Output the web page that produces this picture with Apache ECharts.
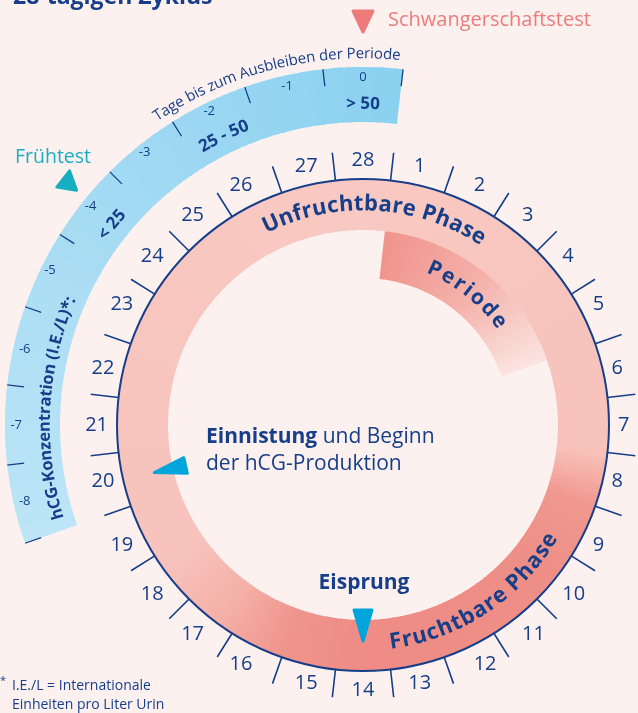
<!DOCTYPE html>
<html lang="de">
<head>
  <meta charset="UTF-8">
  <title>28-tägiger Zyklus</title>
  <script src="https://cdn.jsdelivr.net/npm/echarts@6/dist/echarts.min.js"></script>
  <style>
    html, body { margin: 0; padding: 0; background: #fcf1ef; }
    #chart { width: 638px; height: 713px; }
  </style>
</head>
<body>
  <div id="chart"></div>
  <script>
    // --- Daten ---
    const cycleDays = ['1', '2', '3', '4', '5', '6', '7', '8', '9', '10', '11', '12', '13', '14',
      '15', '16', '17', '18', '19', '20', '21', '22', '23', '24', '25', '26', '27', '28'];
    // Tage bis zum Ausbleiben der Periode (Skala auf dem blauen Band)
    const hcgSlots = ['-27', '-26', '-25', '-24', '-23', '-22', '-21', '-20', '-19', '-18', '-17', '-16', '-15', '-14',
      '-13', '-12', '-11', '-10', '-9', '-8', '-7', '-6', '-5', '-4', '-3', '-2', '-1', '0'];
    const hcgDays = [-8, -7, -6, -5, -4, -3, -2, -1, 0];
    const hcgLevels = ['< 25', '25 - 50', '> 50'];
    const hcgLevelDays = [-4, -2, 0];
    const periodDays = [1, 5];
    const phaseNames = ['Unfruchtbare Phase', 'Fruchtbare Phase'];
    const phaseDays = [0.25, 11.4];
    const eventNames = ['Schwangerschaftstest', 'Frühtest', 'Eisprung', 'Einnistung'];
    const eventDays = [0, -4, 14, 20];

    // --- Stil ---
    const NAVY = '#163e89';
    const CYAN = '#00a5db';
    const TEAL = '#17aec2';
    const SALMON = '#ee7b7c';
    const FONT = '"Open Sans", sans-serif';
    const CENTER = [363, 425];
    const RING = [195, 246];
    const PERIOD = [147, 195];
    const HCG = [303, 358];
    const ringStops = [[0, '#f8c9c2'], [7.5, '#f7c2bb'], [8.5, '#f0988f'], [10, '#ee8f87'],
      [14, '#ee8c85'], [15.5, '#ef948c'], [16.8, '#f4b0a8'], [18.2, '#f7c3bc'], [28, '#f8c9c2']];
    const periodStops = [[0.5, '#f0948c'], [3, '#f4b1aa'], [5.5, '#fbe4e0']];
    const hcgStops = [[-8.5, '#bde5f7'], [-4, '#a5dbf3'], [0.5, '#8ad1f0']];

    const measure = document.createElement('canvas').getContext('2d');

    function hex(c) { return [1, 3, 5].map(i => parseInt(c.substr(i, 2), 16)); }
    function colorAt(stops, d) {
      if (d <= stops[0][0]) return stops[0][1];
      for (let i = 1; i < stops.length; i++) {
        if (d <= stops[i][0]) {
          const t = (d - stops[i - 1][0]) / (stops[i][0] - stops[i - 1][0]);
          const a = hex(stops[i - 1][1]), b = hex(stops[i][1]);
          return 'rgb(' + a.map((v, k) => Math.round(v + (b[k] - v) * t)).join(',') + ')';
        }
      }
      return stops[stops.length - 1][1];
    }

    function angleOf(api, cs, day) {
      const p = api.coord([100, day]);
      return Math.atan2(p[1] - cs.cy, p[0] - cs.cx);
    }

    // Band aus kleinen Sektoren, damit der Farbverlauf dem Kreis folgt
    function band(api, cs, d0, d1, radii, stops) {
      const out = [];
      const n = Math.ceil((d1 - d0) / 0.1);
      for (let i = 0; i < n; i++) {
        const a = d0 + (d1 - d0) * i / n;
        const b = d0 + (d1 - d0) * (i + 1) / n;
        const sa = angleOf(api, cs, a);
        let ea = angleOf(api, cs, i < n - 1 ? b + 0.04 : b);
        while (ea < sa) ea += Math.PI * 2;
        out.push({
          type: 'sector',
          shape: { cx: cs.cx, cy: cs.cy, r0: radii[0], r: radii[1], startAngle: sa, endAngle: ea, clockwise: true },
          style: { fill: colorAt(stops, (a + b) / 2) }
        });
      }
      return out;
    }

    function arcText(api, cs, text, day, cfg) {
      const weight = cfg.weight || 'normal';
      measure.font = weight + ' ' + cfg.size + 'px "Open Sans"';
      const chars = Array.from(text);
      const w = chars.map(ch => measure.measureText(ch).width);
      const sp = cfg.spacing || 0;
      const total = w.reduce((s, x) => s + x, 0) + sp * (chars.length - 1);
      const a0 = angleOf(api, cs, day);
      const dir = cfg.inward ? -1 : 1;
      let pos = -total / 2;
      return chars.map((ch, i) => {
        const a = a0 + dir * (pos + w[i] / 2) / cfg.r;
        pos += w[i] + sp;
        return {
          type: 'text',
          x: cs.cx + cfg.r * Math.cos(a),
          y: cs.cy + cfg.r * Math.sin(a),
          rotation: cfg.inward ? Math.PI / 2 - a : -a - Math.PI / 2,
          style: {
            text: ch, fontSize: cfg.size, fontWeight: weight, fontFamily: FONT,
            fill: cfg.color || NAVY, align: 'center', verticalAlign: 'middle'
          }
        };
      });
    }

    // Dreieck: Spitze bei rTip, Basis bei rBase (radial), optional gedreht
    function marker(api, cs, day, rTip, rBase, halfW, color, turn) {
      let tip = api.coord([rTip, day]);
      let base = api.coord([rBase, day]);
      let ux = tip[0] - base[0], uy = tip[1] - base[1];
      const len = Math.hypot(ux, uy);
      ux /= len; uy /= len;
      if (turn) {
        const c = Math.cos(turn), s = Math.sin(turn);
        const nx = ux * c - uy * s, ny = ux * s + uy * c;
        ux = nx; uy = ny;
        tip = [base[0] + ux * len, base[1] + uy * len];
      }
      const pts = [tip, [base[0] - uy * halfW, base[1] + ux * halfW], [base[0] + uy * halfW, base[1] - ux * halfW]];
      return {
        type: 'polygon',
        shape: { points: pts },
        style: { fill: color, stroke: color, lineWidth: 3, lineJoin: 'round' }
      };
    }

    const textCfg = {
      phase: { r: 221, size: 22, weight: 'bold', spacing: 0.6 },
      phaseBottom: { r: 219, size: 22, weight: 'bold', spacing: 0.6, inward: true },
      period: { r: 171, size: 21, weight: 'bold', spacing: 2.6 },
      days: { r: 371, size: 15 },
      hcgTitle: { r: 318, size: 16.5, weight: 'bold' },
      level: { r: 321, size: 17, weight: 'bold' }
    };

    function renderAll(params, api) {
      const cs = params.coordSys;
      let kids = [];
      kids = kids.concat(band(api, cs, hcgDays[0] - 0.5, hcgDays[hcgDays.length - 1] + 0.5, HCG, hcgStops));
      kids = kids.concat(band(api, cs, 0, 28, RING, ringStops));
      kids = kids.concat(band(api, cs, periodDays[0] - 0.5, periodDays[1] + 0.5, PERIOD, periodStops));

      kids = kids.concat(arcText(api, cs, phaseNames[0], phaseDays[0], textCfg.phase));
      kids = kids.concat(arcText(api, cs, phaseNames[1], phaseDays[1], textCfg.phaseBottom));
      kids = kids.concat(arcText(api, cs, 'Periode', (periodDays[0] + periodDays[1]) / 2, textCfg.period));
      kids = kids.concat(arcText(api, cs, 'Tage bis zum Ausbleiben der Periode', -1.1, textCfg.days));
      kids = kids.concat(arcText(api, cs, 'hCG-Konzentration (I.E./L)*:', -6.75, textCfg.hcgTitle));
      hcgLevels.forEach((t, i) => {
        kids = kids.concat(arcText(api, cs, t, hcgLevelDays[i], textCfg.level));
      });

      kids.push(marker(api, cs, eventDays[0], 393, 414, 10, SALMON));
      kids.push(marker(api, cs, eventDays[1], 397, 379, 10, TEAL, 1.06));
      kids.push(marker(api, cs, eventDays[2], 216, 185, 9, CYAN));
      kids.push(marker(api, cs, eventDays[3], 214, 182, 8, CYAN));
      return { type: 'group', children: kids };
    }

    const chart = echarts.init(document.getElementById('chart'));
    const option = {
      backgroundColor: '#fcf1ef',
      animation: false,
      polar: [
        { center: CENTER, radius: [0, RING[1]] },
        { center: CENTER, radius: [0, HCG[1]] },
        { center: CENTER, radius: [0, 450] }
      ],
      angleAxis: [
        {
          polarIndex: 0, type: 'category', data: cycleDays, boundaryGap: true,
          startAngle: 90 - 180 / 28, clockwise: true, z: 10,
          axisLine: { lineStyle: { color: NAVY, width: 2 } },
          axisTick: { length: 28, lineStyle: { color: NAVY, width: 1.6 } },
          axisLabel: { interval: 0, margin: 9, color: NAVY, fontSize: 20, fontFamily: FONT },
          splitLine: { show: false }
        },
        {
          polarIndex: 1, type: 'category', data: hcgSlots, boundaryGap: true,
          startAngle: 90 - 180 / 28, clockwise: true, z: 10,
          axisLine: { show: false },
          axisTick: {
            inside: true, length: 17,
            interval: (i, v) => hcgDays.indexOf(+v) >= 0,
            lineStyle: { color: NAVY, width: 1.3 }
          },
          axisLabel: {
            interval: 0, margin: -17, color: NAVY, fontSize: 13, fontFamily: FONT,
            formatter: v => (hcgDays.indexOf(+v) >= 0 ? v : '')
          },
          splitLine: { show: false }
        },
        { polarIndex: 2, type: 'value', min: 0, max: 28, startAngle: 90, clockwise: true, show: false }
      ],
      radiusAxis: [
        { polarIndex: 0, type: 'value', min: 0, max: 1, show: false },
        { polarIndex: 1, type: 'value', min: 0, max: 1, show: false },
        { polarIndex: 2, type: 'value', min: 0, max: 450, show: false }
      ],
      series: [
        {
          type: 'custom', coordinateSystem: 'polar', polarIndex: 2, clip: false, z: 1,
          data: [[0, 0]],
          renderItem: renderAll
        }
      ],
      graphic: [
        { type: 'text', x: 13, y: -3, style: { text: '28-tägigen Zyklus', fontSize: 23, fontWeight: 'bold', fontFamily: FONT, fill: NAVY, verticalAlign: 'middle' } },
        { type: 'text', x: 388, y: 20, style: { text: eventNames[0], fontSize: 20, fontFamily: FONT, fill: SALMON, verticalAlign: 'middle' } },
        { type: 'text', x: 53, y: 157, style: { text: eventNames[1], fontSize: 19.5, fontFamily: FONT, fill: TEAL, align: 'center', verticalAlign: 'middle' } },
        { type: 'text', x: 364, y: 583, style: { text: eventNames[2], fontSize: 21, fontWeight: 'bold', fontFamily: FONT, fill: NAVY, align: 'center', verticalAlign: 'middle' } },
        {
          type: 'text', x: 206, y: 451,
          style: {
            text: '{b|' + eventNames[3] + '} und Beginn\nder hCG-Produktion',
            fontSize: 21, fontFamily: FONT, fill: NAVY, verticalAlign: 'middle', lineHeight: 27,
            rich: { b: { fontSize: 21, fontWeight: 'bold', fontFamily: FONT, fill: NAVY, lineHeight: 27 } }
          }
        },
        { type: 'text', x: 0, y: 681, style: { text: '*', fontSize: 11, fontFamily: FONT, fill: NAVY, verticalAlign: 'middle' } },
        { type: 'text', x: 12, y: 686, style: { text: 'I.E./L = Internationale', fontSize: 14, fontFamily: FONT, fill: NAVY, verticalAlign: 'middle' } },
        { type: 'text', x: 12, y: 705, style: { text: 'Einheiten pro Liter Urin', fontSize: 14, fontFamily: FONT, fill: NAVY, verticalAlign: 'middle' } }
      ]
    };
    chart.setOption(option);
  </script>
</body>
</html>
